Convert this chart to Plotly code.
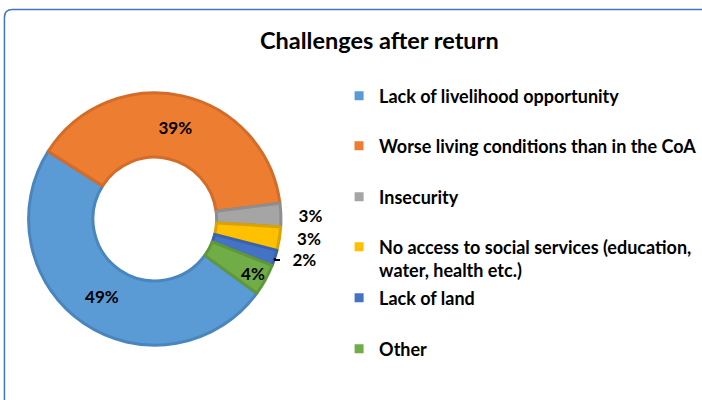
import plotly.graph_objects as go

# ---- data ----
categories = [
    "Lack of livelihood opportunity",
    "Worse living conditions than in the CoA",
    "Insecurity",
    "No access to social services (education, water, health etc.)",
    "Lack of land",
    "Other",
]
legend_labels = [
    "Lack of livelihood opportunity",
    "Worse living conditions than in the CoA",
    "Insecurity",
    "No access to social services (education,<br>water, health etc.)",
    "Lack of land",
    "Other",
]
values = [49, 39, 3, 3, 2, 4]
colors = ["#5B9BD5", "#ED7D31", "#A5A5A5", "#FFC000", "#4472C4", "#70AD47"]
edge_colors = ["#4A86BE", "#D46C29", "#8E8E8E", "#D9A400", "#3B63AB", "#5F973A"]
text_positions = ["inside", "inside", "outside", "outside", "outside", "inside"]
title_text = "Challenges after return"

W, H = 702, 400
FONT = "Lato"


def px(x):
    return x / W


def py(y):
    return 1 - y / H


text_templates = [
    ("\u00a0\u00a0\u00a0%{percent:.0%}" if p == "outside" else "%{percent:.0%}")
    for p in text_positions
]

fig = go.Figure()

fig.add_trace(go.Pie(
    labels=categories,
    values=values,
    sort=False,
    direction="clockwise",
    rotation=126,
    hole=0.49,
    marker=dict(colors=colors, line=dict(color=edge_colors, width=3)),
    texttemplate=text_templates,
    textposition=text_positions,
    insidetextorientation="horizontal",
    insidetextfont=dict(family=FONT, size=17, color="#000000", weight="bold"),
    outsidetextfont=dict(family=FONT, size=17, color="#000000", weight="bold"),
    domain=dict(x=[px(29), px(285)], y=[py(347), py(91)]),
    showlegend=False,
    hoverinfo="label+percent",
))

# legend entries (one legend per entry for Excel-like even spacing)
legend_rows = [96, 146, 197, 247, 298, 349]
layout_legends = {}
for i, (lab, col) in enumerate(zip(legend_labels, colors)):
    key = "legend" if i == 0 else f"legend{i + 1}"
    fig.add_trace(go.Scatter(
        x=[None], y=[None], mode="markers",
        marker=dict(symbol="square", size=9, color=col),
        name=lab, legend=key, showlegend=True, hoverinfo="skip",
    ))
    layout_legends[key] = dict(
        x=px(344), y=py(legend_rows[i] - 18.5), xanchor="left", yanchor="top",
        valign="top", bgcolor="rgba(0,0,0,0)", borderwidth=0,
        font=dict(family=FONT, size=18, color="#000000", weight="bold"),
        itemclick=False, itemdoubleclick=False,
    )

fig.update_layout(
    width=W, height=H,
    margin=dict(l=0, r=0, t=0, b=0),
    paper_bgcolor="white", plot_bgcolor="white",
    xaxis=dict(visible=False), yaxis=dict(visible=False),
    uniformtext=dict(minsize=17, mode="show"),
    annotations=[dict(
        text=title_text, x=px(385), y=py(40), xref="paper", yref="paper",
        xanchor="center", yanchor="middle", showarrow=False,
        font=dict(family=FONT, size=23.5, color="#000000", weight="bold"),
    )],
    shapes=[dict(
        type="path", xref="paper", yref="paper",
        path=(f"M {px(4.5)},{py(410)} L {px(4.5)},{py(17.5)} "
              f"Q {px(4.5)},{py(9.5)} {px(12.5)},{py(9.5)} "
              f"L {px(715)},{py(9.5)}"),
        line=dict(color="#4472C4", width=1.5),
    )],
    **layout_legends,
)

fig.write_html(
    "out.html",
    config={"displayModeBar": False},
    post_script="document.body.style.margin='0px'; document.body.style.overflow='hidden';",
)
